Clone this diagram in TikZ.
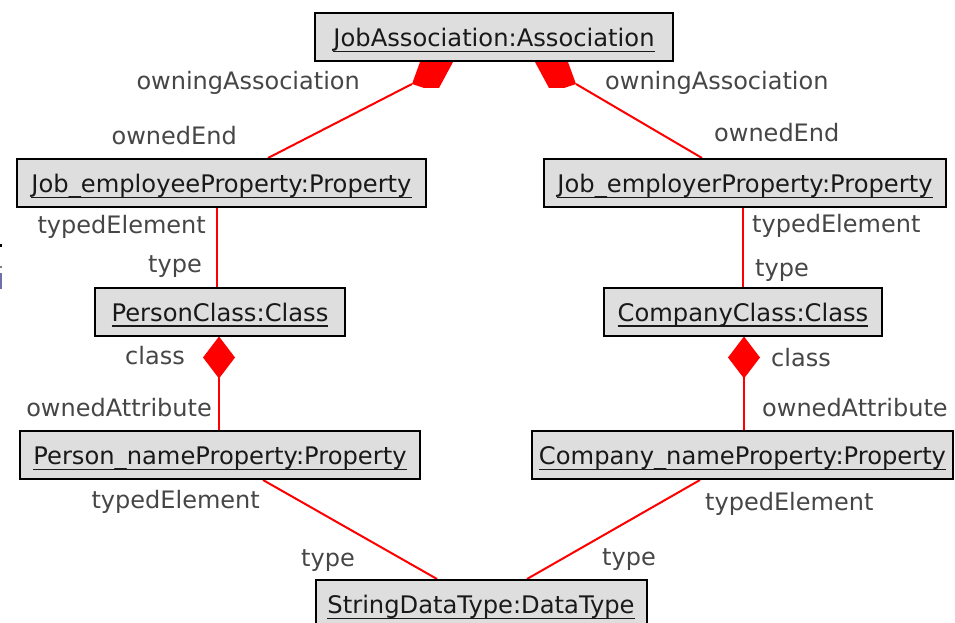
\documentclass[tikz,border=0pt]{standalone}
\usepackage{fontspec}
\setmainfont{DejaVu Sans}
\definecolor{boxfill}{RGB}{222,222,222}
\definecolor{labelgray}{RGB}{70,70,70}
\definecolor{umlred}{RGB}{255,0,0}
\definecolor{edgeblue}{RGB}{110,110,170}
\newlength\ulw
\newcommand\ulin[1]{\settowidth{\ulw}{#1}\makebox[0pt][l]{\rule[-5.5pt]{\ulw}{1.5pt}}#1}
\pgfdeclarelayer{bg}
\pgfsetlayers{bg,main}
\begin{document}
\begin{tikzpicture}[x=1pt,y=-1pt,
  umlbox/.style={draw=black, line width=2pt, fill=boxfill, minimum height=48pt,
    inner sep=0pt, text height=25pt, text depth=5.6pt,
    font=\fontsize{24.2}{28}\selectfont, text=black!90},
  rolelabel/.style={font=\fontsize{24}{28}\selectfont, text=labelgray, inner sep=0pt},
  assoc/.style={draw=umlred, line width=2pt},
  compdiamond/.style={fill=umlred}]
\useasboundingbox (0,0) rectangle (955,623);
\clip (0,0) rectangle (955,623);

% boxes
\node[umlbox, minimum width=358pt] (ja)  at (494,37)    {\ulin{JobAssociation:Association}};
\node[umlbox, minimum width=409pt] (jee) at (221.5,183) {\ulin{Job\_employeeProperty:Property}};
\node[umlbox, minimum width=402pt] (jer) at (745,183)   {\ulin{Job\_employerProperty:Property}};
\node[umlbox, minimum width=250pt] (pc)  at (220,311.5) {\ulin{PersonClass:Class}};
\node[umlbox, minimum width=278pt] (cc)  at (743,311.5) {\ulin{CompanyClass:Class}};
\node[umlbox, minimum width=400pt] (pn)  at (220,455)   {\ulin{Person\_nameProperty:Property}};
\node[umlbox, minimum width=421pt] (cn)  at (742.5,455) {\ulin{Company\_nameProperty:Property}};
\node[umlbox, minimum width=331pt] (sd)  at (481,604)   {\ulin{StringDataType:DataType}};

\begin{pgfonlayer}{bg}
\fill[white] (0,0) rectangle (955,623);
% left-edge marks
\fill[black] (0,244) rectangle (2,247);
\fill[gray] (0,266) rectangle (2,268);
\fill[edgeblue] (0,273) rectangle (2,289);

% top associations with composite diamonds (partly hidden by the box)
\draw[assoc] ([xshift=46.5pt]jee.north) -- ([shift={(-82,22)}]ja.south);
\fill[compdiamond] ([shift={(-74,0)}]ja.south) -- ([shift={(-41,0)}]ja.south)
  -- ([shift={(-55,26)}]ja.south) -- ([shift={(-70,26)}]ja.south)
  -- ([shift={(-82,22)}]ja.south) -- cycle;
\draw[assoc] ([xshift=-43pt]jer.north) -- ([shift={(82,22)}]ja.south);
\fill[compdiamond] ([shift={(74,0)}]ja.south) -- ([shift={(41,0)}]ja.south)
  -- ([shift={(55,26)}]ja.south) -- ([shift={(70,26)}]ja.south)
  -- ([shift={(82,22)}]ja.south) -- cycle;

% verticals property -> class
\draw[assoc] ([xshift=-3pt]pc.north) -- ([xshift=-3pt]pc.north |- jee.south);
\draw[assoc] (cc.north) -- (cc.north |- jer.south);

% class -> attribute compositions
\fill[compdiamond] ([xshift=-1pt]pc.south) -- ++(16,21) -- ++(-16,21) -- ++(-16,-21) -- cycle;
\draw[assoc] ([xshift=-1pt,yshift=-40pt]pc.south) -- ([xshift=-1pt]pc.south |- pn.north);
\fill[compdiamond] ([xshift=1pt]cc.south) -- ++(16,21) -- ++(-16,21) -- ++(-16,-21) -- cycle;
\draw[assoc] ([xshift=1pt,yshift=-40pt]cc.south) -- ([xshift=1pt]cc.south |- cn.north);

% attributes -> datatype
\draw[assoc] ([xshift=43pt]pn.south) -- ([xshift=-44pt]sd.north);
\draw[assoc] ([xshift=-42.5pt]cn.south) -- ([xshift=46pt]sd.north);
\end{pgfonlayer}

% role labels
\node[rolelabel, anchor=base east] (l1)  at (360,90)  {owningAssociation};
\node[rolelabel, anchor=base west] (l2)  at (605,90)  {owningAssociation};
\node[rolelabel, anchor=base east] (l3)  at (237,144) {ownedEnd};
\node[rolelabel, anchor=base west] (l4)  at (714,142) {ownedEnd};
\node[rolelabel, anchor=base east] (l5)  at (206,233) {typedElement};
\node[rolelabel, anchor=base east] (l6)  at (202,272) {type};
\node[rolelabel, anchor=base west] (l7)  at (752,232) {typedElement};
\node[rolelabel, anchor=base west] (l8)  at (755,276) {type};
\node[rolelabel, anchor=base east] (l9)  at (185,364) {class};
\node[rolelabel, anchor=base west] (l10) at (771,366) {class};
\node[rolelabel, anchor=base east] (l11) at (212,416) {ownedAttribute};
\node[rolelabel, anchor=base west] (l12) at (762,416) {ownedAttribute};
\node[rolelabel, anchor=base east] (l13) at (260,508) {typedElement};
\node[rolelabel, anchor=base west] (l14) at (705,510) {typedElement};
\node[rolelabel, anchor=base east] (l15) at (355,566) {type};
\node[rolelabel, anchor=base west] (l16) at (602,565) {type};
\end{tikzpicture}
\end{document}
